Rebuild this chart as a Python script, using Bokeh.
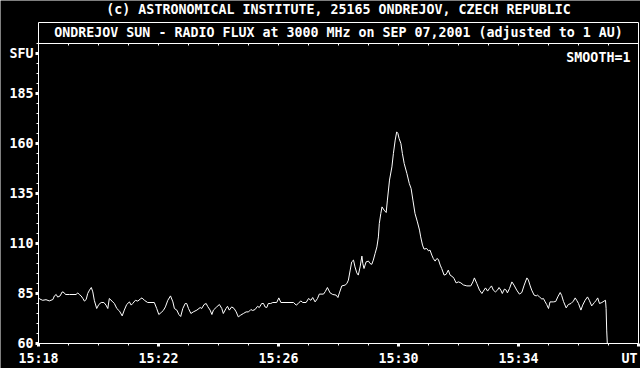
from bokeh.plotting import figure
from bokeh.models import Range1d, FixedTicker, Label, LinearAxis
from bokeh.embed import file_html
from bokeh.resources import INLINE

# time in minutes after 15:18 UT
t_min = [0.00, 0.05, 0.14, 0.25, 0.36, 0.48, 0.53, 0.59, 0.64, 0.72, 0.79, 0.85, 0.90, 1.03, 1.25, 1.31,
         1.36, 1.42, 1.48, 1.53, 1.59, 1.64, 1.70, 1.76, 1.81, 1.86, 1.94, 2.01, 2.09, 2.18, 2.25, 2.31,
         2.36, 2.45, 2.53, 2.61, 2.70, 2.79, 2.86, 2.94, 3.03, 3.09, 3.14, 3.23, 3.31, 3.39, 3.45, 3.53,
         3.64, 3.86, 3.94, 4.01, 4.09, 4.16, 4.23, 4.31, 4.40, 4.48, 4.53, 4.61, 4.68, 4.74,
         4.81, 4.89, 4.94, 5.00, 5.08, 5.16, 5.28, 5.39, 5.44, 5.52, 5.59, 5.64, 5.72, 5.78, 5.83, 5.94,
         6.03, 6.11, 6.16, 6.25, 6.30, 6.36, 6.44, 6.52, 6.59, 6.66, 6.74, 6.83, 6.92, 7.00, 7.08, 7.14,
         7.22, 7.30, 7.36, 7.44, 7.50, 7.55, 7.61, 7.66, 7.74, 7.81, 7.94, 8.01, 8.08, 8.50, 8.59, 8.66,
         8.74, 8.81, 8.92, 9.00, 9.08, 9.14, 9.22, 9.30, 9.36, 9.50, 9.56, 9.63, 9.72,
         9.81, 9.92, 9.98, 10.03, 10.11, 10.22, 10.28, 10.33, 10.39, 10.44, 10.50, 10.55, 10.61, 10.66,
         10.72, 10.78, 10.81, 10.85, 10.92, 11.00, 11.05, 11.11, 11.16, 11.22, 11.28, 11.33, 11.36, 11.41,
         11.45, 11.52, 11.59, 11.63, 11.70, 11.78, 11.83, 11.89, 11.94, 11.98, 12.02, 12.08, 12.13, 12.19,
         12.28, 12.36, 12.42, 12.48, 12.55, 12.63, 12.70, 12.74, 12.80, 12.85, 12.94, 13.00, 13.05, 13.11,
         13.16, 13.22, 13.28, 13.33, 13.39, 13.44, 13.52, 13.59, 13.66, 13.72, 13.81, 13.85, 13.92, 14.00,
         14.08, 14.16, 14.28, 14.41, 14.48, 14.53, 14.61, 14.70, 14.78, 14.83, 14.90, 14.97, 15.03, 15.10,
         15.16, 15.23, 15.30, 15.35, 15.41, 15.46, 15.53, 15.59, 15.63, 15.70, 15.78, 15.85, 15.94, 16.03,
         16.11, 16.19, 16.28, 16.33, 16.39, 16.44, 16.52, 16.59, 16.63, 16.70, 16.78, 16.83, 16.89, 16.94,
         17.00, 17.05, 17.16, 17.24, 17.31, 17.39, 17.44, 17.50, 17.59, 17.66, 17.75, 17.83, 17.89, 17.94,
         18.00, 18.08, 18.14, 18.22, 18.30, 18.36, 18.44, 18.53, 18.59, 18.64, 18.70, 18.78, 18.85, 18.90,
         18.92, 18.94, 18.96]

# radio flux in SFU
sfu = [82.8, 82.2, 81.6, 81.9, 81.3, 82.0, 83.8, 84.5, 83.2, 83.8, 85.8, 85.5, 84.5, 84.5, 84.5, 85.3,
       84.5, 83.8, 82.5, 81.2, 82.0, 85.0, 86.7, 88.0, 85.8, 81.6, 77.5, 79.5, 80.5, 80.5, 79.2, 77.5,
       82.5, 81.2, 80.0, 77.5, 76.2, 73.8, 76.7, 79.5, 80.8, 79.2, 80.0, 81.6, 81.2, 82.2, 82.8, 81.6,
       80.5, 80.5, 77.5, 74.5, 75.5, 76.5, 78.3, 81.6, 83.8, 80.8, 77.5, 76.7, 74.5, 73.5,
       77.5, 80.0, 80.0, 77.5, 75.0, 75.8, 76.7, 78.0, 77.5, 79.5, 80.0, 78.5, 76.7, 74.5, 76.7, 78.3,
       79.5, 77.5, 75.0, 77.5, 78.6, 76.7, 78.3, 77.5, 75.8, 73.3, 74.2, 75.0, 75.8, 75.8, 77.0, 76.5,
       77.0, 78.6, 78.0, 80.0, 80.0, 78.3, 78.0, 80.0, 80.0, 80.5, 80.5, 82.8, 80.5, 80.5, 79.2, 80.0,
       81.3, 80.5, 80.5, 82.5, 81.6, 83.0, 80.8, 82.5, 84.7, 84.7, 86.0, 88.0, 85.3,
       84.5, 84.2, 83.0, 85.3, 88.8, 89.2, 90.0, 91.7, 96.7, 100.8, 101.7, 98.3, 95.3, 94.2,
       98.3, 103.7, 100.0, 97.5, 100.8, 101.2, 100.0, 99.6, 101.7, 105.0, 108.3, 113.3, 120.0, 125.0,
       128.3, 126.7, 125.5, 131.7, 141.7, 148.3, 155.0, 161.7, 165.8, 165.0, 162.5, 160.0, 155.0, 150.0,
       145.0, 140.0, 137.5, 131.7, 125.0, 120.8, 116.7, 113.3, 109.2, 107.2, 107.5, 106.3, 106.7, 104.2,
       102.5, 101.2, 102.5, 102.0, 99.2, 97.5, 94.2, 94.6, 96.7, 94.2, 93.3, 92.5, 90.3, 90.8,
       90.3, 89.3, 88.8, 88.8, 90.8, 92.8, 90.0, 86.7, 85.0, 86.2, 87.8, 86.2, 87.5, 88.8,
       86.7, 85.8, 86.7, 88.0, 86.7, 85.0, 87.2, 86.7, 85.3, 87.5, 90.8, 89.2, 86.7, 84.7,
       85.5, 89.2, 92.8, 91.7, 88.8, 86.7, 84.2, 83.8, 84.2, 83.3, 82.2, 82.5, 80.8, 79.5,
       77.5, 80.8, 80.8, 81.0, 83.3, 85.5, 84.0, 81.0, 77.8, 79.5, 80.0, 81.2, 82.8, 81.6,
       80.0, 76.7, 79.2, 81.6, 83.3, 81.6, 78.8, 80.5, 81.6, 82.8, 80.0, 80.5, 81.2, 81.6,
       77.5, 66.7, 60.0]

x_ticks = [0, 4, 8, 12, 16, 20]
x_tick_labels = ["15:18", "15:22", "15:26", "15:30", "15:34", ""]
x_minor = list(range(0, 21))
y_ticks = [60, 85, 110, 135, 160, 185, 205]
y_tick_labels = ["60", "85", "110", "135", "160", "185", "SFU"]
y_minor = list(range(60, 211, 5))

title_top = "(c) ASTRONOMICAL INSTITUTE, 25165 ONDREJOV, CZECH REPUBLIC"
title_box = "ONDREJOV SUN - RADIO FLUX at 3000 MHz on SEP 07,2001 (adjusted to 1 AU)"
smooth_txt = "SMOOTH=1"
unit_txt = "UT"

FONT = "DejaVu Sans Mono"
FS = "13.3px"

X0, X1 = 0, 20          # plotted time span (minutes after 15:18)
Y0, Y1 = 60, 220.5      # plotted flux span (box top)
Y_BOX = 210             # line under the inner title

p = figure(width=640, height=368, output_backend="svg", toolbar_location=None,
           x_range=Range1d(-38 / 30, 20 + 2 / 30), y_range=Range1d(47.5, 231.5),
           x_axis_location=None, y_axis_location=None,
           min_border=0, min_border_left=0, min_border_right=0,
           min_border_top=0, min_border_bottom=0,
           background_fill_color="black", border_fill_color="black",
           outline_line_color=None)
p.grid.visible = False


def style(ax):
    ax.axis_line_color = "white"
    ax.axis_line_width = 1
    ax.major_tick_line_color = "white"
    ax.minor_tick_line_color = "white"
    ax.major_label_text_color = "white"
    ax.major_label_text_font = FONT
    ax.major_label_text_font_size = FS
    ax.major_label_text_font_style = "bold"
    ax.major_tick_in = 0
    ax.major_tick_out = 3
    ax.major_tick_line_width = 3
    ax.minor_tick_in = 0
    ax.minor_tick_out = 2
    ax.minor_tick_line_width = 1
    return ax


xax = style(LinearAxis(fixed_location=Y0, bounds=(X0, X1),
                       ticker=FixedTicker(ticks=x_ticks, minor_ticks=x_minor)))
xax.major_label_overrides = dict(zip(x_ticks, x_tick_labels))
xax.major_label_standoff = 4
p.add_layout(xax, "below")

yax = style(LinearAxis(fixed_location=X0, bounds=(Y0, Y1),
                       ticker=FixedTicker(ticks=y_ticks, minor_ticks=y_minor)))
yax.major_label_overrides = dict(zip(y_ticks, y_tick_labels))
yax.major_label_standoff = 2
p.add_layout(yax, "left")


def plain(ax):
    ax.axis_line_color = "white"
    ax.axis_line_width = 1
    ax.major_tick_line_color = None
    ax.minor_tick_line_color = None
    ax.major_label_text_color = None
    return ax


p.add_layout(plain(LinearAxis(fixed_location=X1, bounds=(Y0, Y1),
                              ticker=FixedTicker(ticks=[]))), "right")
p.add_layout(plain(LinearAxis(fixed_location=Y1, bounds=(X0, X1),
                              ticker=FixedTicker(ticks=[]))), "above")
box = plain(LinearAxis(fixed_location=Y_BOX, bounds=(X0, X1),
                       ticker=FixedTicker(ticks=x_minor)))
box.major_tick_line_color = "white"
box.major_tick_in = 2
box.major_tick_out = 0
p.add_layout(box, "above")

p.line(t_min, sfu, line_color="white", line_width=1)


def lab(x, y, text, align="center"):
    p.add_layout(Label(x=x, y=y, text=text, text_align=align, text_baseline="middle",
                       text_color="white", text_font=FONT, text_font_size=FS,
                       text_font_style="bold"))


lab(10, 227.2, title_top)
lab(10, 215.6, title_box)
lab(19.73, 203.2, smooth_txt, "right")
lab(19.97, 52.6, unit_txt, "right")

open("out.html", "w").write(file_html(p, INLINE))
